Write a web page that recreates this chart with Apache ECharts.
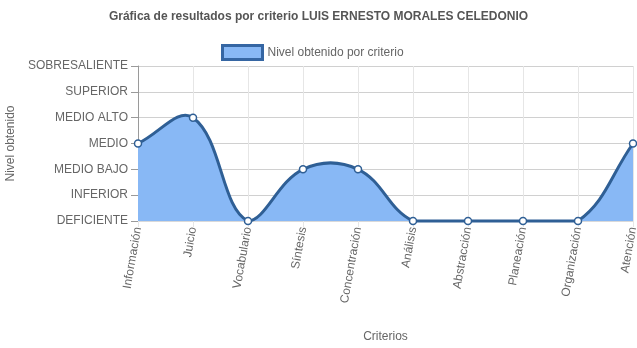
<!DOCTYPE html>
<html>
<head>
<meta charset="utf-8">
<script src="https://cdn.jsdelivr.net/npm/echarts@6/dist/echarts.min.js"></script>
<style>
  html, body { margin: 0; padding: 0; background: #fff; }
  #chart { width: 637px; height: 348px; }
</style>
</head>
<body>
<div id="chart"></div>
<script>
// Criteria evaluated and level reached in each (0 = DEFICIENTE ... 6 = SOBRESALIENTE)
const criterios = ['Información', 'Juicio', 'Vocabulario', 'Síntesis', 'Concentración',
                   'Análisis', 'Abstracción', 'Planeación', 'Organización', 'Atención'];
const niveles = [3, 4, 0, 2, 2, 0, 0, 0, 0, 3];
const nombresNivel = ['DEFICIENTE', 'INFERIOR', 'MEDIO BAJO', 'MEDIO', 'MEDIO ALTO', 'SUPERIOR', 'SOBRESALIENTE'];

const fontFamily = '"Liberation Sans", Arial, Helvetica, sans-serif';
const lineColor = '#2f5f95';
const fillColor = '#88b8f5';
const tension = 0.4;

// Cardinal-style spline through the points (pixel space), control points kept inside the plot area
function splinePath(pts, area) {
  const n = pts.length;
  const cps = pts.map((cur, i) => {
    const prev = pts[Math.max(i - 1, 0)];
    const next = pts[Math.min(i + 1, n - 1)];
    const d01 = Math.hypot(cur[0] - prev[0], cur[1] - prev[1]);
    const d12 = Math.hypot(next[0] - cur[0], next[1] - cur[1]);
    let s01 = d01 / (d01 + d12), s12 = d12 / (d01 + d12);
    if (!isFinite(s01)) s01 = 0;
    if (!isFinite(s12)) s12 = 0;
    const fa = tension * s01, fb = tension * s12;
    const clampX = v => Math.min(Math.max(v, area.x), area.x + area.width);
    const clampY = v => Math.min(Math.max(v, area.y), area.y + area.height);
    return {
      prev: [clampX(cur[0] - fa * (next[0] - prev[0])), clampY(cur[1] - fa * (next[1] - prev[1]))],
      next: [clampX(cur[0] + fb * (next[0] - prev[0])), clampY(cur[1] + fb * (next[1] - prev[1]))]
    };
  });
  let d = 'M' + pts[0][0] + ' ' + pts[0][1];
  for (let i = 1; i < n; i++) {
    const a = cps[i - 1].next, b = cps[i].prev, p = pts[i];
    d += ' C' + a[0] + ' ' + a[1] + ' ' + b[0] + ' ' + b[1] + ' ' + p[0] + ' ' + p[1];
  }
  return d;
}

const chart = echarts.init(document.getElementById('chart'), null, { renderer: 'canvas' });

chart.setOption({
  animation: false,
  textStyle: { fontFamily },
  title: {
    text: 'Gráfica de resultados por criterio LUIS ERNESTO MORALES CELEDONIO',
    left: 'center',
    top: 6,
    textStyle: { fontSize: 12, fontWeight: 'bold', color: '#555', fontFamily }
  },
  legend: {
    top: 39,
    left: 216,
    itemWidth: 40,
    itemHeight: 14,
    itemGap: 6,
    textStyle: { fontSize: 12, color: '#666', fontFamily },
    data: [{
      name: 'Nivel obtenido por criterio',
      icon: 'rect',
      itemStyle: { color: fillColor, borderColor: '#3566a3', borderWidth: 3 }
    }]
  },
  grid: { left: 138, right: 4, top: 66, bottom: 127, containLabel: false, outerBoundsMode: 'none' },
  xAxis: {
    type: 'category',
    data: criterios,
    boundaryGap: false,
    name: 'Criterios',
    nameLocation: 'middle',
    nameGap: 110,
    nameTextStyle: { fontSize: 12, color: '#666', fontFamily },
    axisLine: { show: true, lineStyle: { color: '#d9d9d9' } },
    axisTick: { show: true, length: 6, lineStyle: { color: '#e6e6e6' } },
    axisLabel: { rotate: 80, fontSize: 12, color: '#666', margin: 6, interval: 0, fontFamily },
    splitLine: { show: true, lineStyle: { color: '#e6e6e6' } }
  },
  yAxis: {
    type: 'value',
    min: 0,
    max: 6,
    interval: 1,
    name: 'Nivel obtenido',
    nameLocation: 'middle',
    nameGap: 119,
    nameTextStyle: { fontSize: 12, color: '#666', fontFamily },
    axisLine: { show: true, lineStyle: { color: '#9a9a9a' } },
    axisTick: { show: true, length: 7, lineStyle: { color: '#9a9a9a' } },
    axisLabel: {
      fontSize: 12, color: '#666', margin: 10, fontFamily,
      formatter: v => nombresNivel[v] || ''
    },
    splitLine: { show: true, lineStyle: { color: '#d0d0d0' } }
  },
  series: [
    {
      // Filled spline area and its outline, built from the axis scales
      type: 'custom',
      name: 'Nivel obtenido por criterio',
      data: niveles.map((v, i) => [i, v]),
      silent: true,
      z: 2,
      renderItem: (params, api) => {
        if (params.dataIndex !== 0) return null;
        const pts = niveles.map((v, i) => api.coord([i, v]));
        const area = { x: params.coordSys.x, y: params.coordSys.y,
                       width: params.coordSys.width, height: params.coordSys.height };
        const curve = splinePath(pts, area);
        const base0 = api.coord([niveles.length - 1, 0]);
        const base1 = api.coord([0, 0]);
        const fillPath = curve + ' L' + base0[0] + ' ' + base0[1] + ' L' + base1[0] + ' ' + base1[1] + ' Z';
        return {
          type: 'group',
          children: [
            { type: 'path', shape: { pathData: fillPath }, style: { fill: fillColor, stroke: null } },
            { type: 'path', shape: { pathData: curve },
              style: { fill: null, stroke: lineColor, lineWidth: 3, lineJoin: 'round' } }
          ]
        };
      }
    },
    {
      // Point markers
      type: 'line',
      name: 'puntos',
      data: niveles,
      z: 3,
      symbol: 'circle',
      symbolSize: 7,
      itemStyle: { color: '#ffffff', borderColor: lineColor, borderWidth: 1.5 },
      lineStyle: { width: 0, opacity: 0 }
    }
  ]
});
</script>
</body>
</html>
